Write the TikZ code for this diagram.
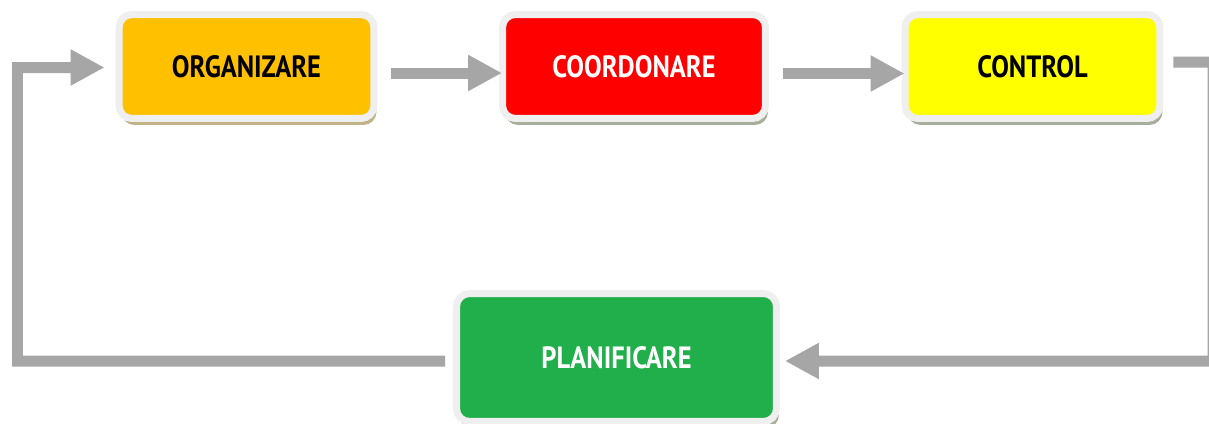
\documentclass[tikz,border=0pt]{standalone}
\usepackage{fontspec}
\newfontfamily\stagefont[FakeStretch=0.86]{PT Sans}
\usetikzlibrary{arrows.meta}
\usetikzlibrary{shadows}
\definecolor{rimgray}{HTML}{EFEFEF}
\definecolor{flowgray}{HTML}{A6A6A6}
\definecolor{orgfill}{HTML}{FFC000}
\definecolor{coordfill}{HTML}{FF0000}
\definecolor{ctrlfill}{HTML}{FFFF00}
\definecolor{planfill}{HTML}{21AF4B}
\definecolor{tanshade}{HTML}{C2B288}
\definecolor{greyshade}{HTML}{A8AE9C}
\tikzset{
	stage/.style={
		rectangle,
		rounded corners=0.26cm,
		draw=rimgray,
		line width=0.14cm,
		minimum width=5.1cm,
		minimum height=2.08cm,
		text centered,
		font=\stagefont\bfseries\fontsize{17.5}{19}\selectfont,
	},
	shade/.style={
		drop shadow={shadow xshift=0.05cm, shadow yshift=-0.13cm, fill=#1, opacity=1},
	},
	flow/.style={
		-{Triangle[length=0.68cm, width=0.68cm]},
		draw=flowgray,
		line width=0.22cm,
	},
}

\begin{document}
\begin{tikzpicture}[x=0.02cm, y=-0.02cm]
		\useasboundingbox[fill=white] (0,0) rectangle (1209,423);

		% top row
		\node[stage, shade=tanshade, fill=orgfill] (org) at (246.5,66.5) {ORGANIZARE} ;
		\node[stage, shade=greyshade, fill=coordfill, text=white, minimum width=5.26cm] (coord) at (634,66.5) {COORDONARE} ;
		\node[stage, shade=greyshade, fill=ctrlfill] (ctrl) at (1032.5,66.5) {CONTROL} ;

		% bottom
		\node[stage, shade=greyshade, fill=planfill, text=white, minimum width=6.4cm, minimum height=2.56cm] (plan) at (616.5,357.5) {PLANIFICARE} ;

		% loop corners
		\coordinate (rc) at (1213,361) ;
		\coordinate (lc) at (17.5,361) ;

		\draw[flow] ([xshift=0.28cm, yshift=-0.13cm]org.east) -- ([xshift=0.06cm, yshift=-0.13cm]coord.west) ;
		\draw[flow] ([xshift=0.28cm, yshift=-0.14cm]coord.east) -- ([xshift=0.06cm, yshift=-0.14cm]ctrl.west) ;

		\draw[flow] ([xshift=0.2cm, yshift=0.09cm]ctrl.east) -| (rc) -- ([xshift=0.1cm, yshift=-0.07cm]plan.east) ;
		\draw[flow] ([xshift=-0.16cm, yshift=-0.07cm]plan.west) -- (lc) |- ([xshift=-0.22cm, yshift=-0.02cm]org.west) ;

	\end{tikzpicture}
\end{document}
